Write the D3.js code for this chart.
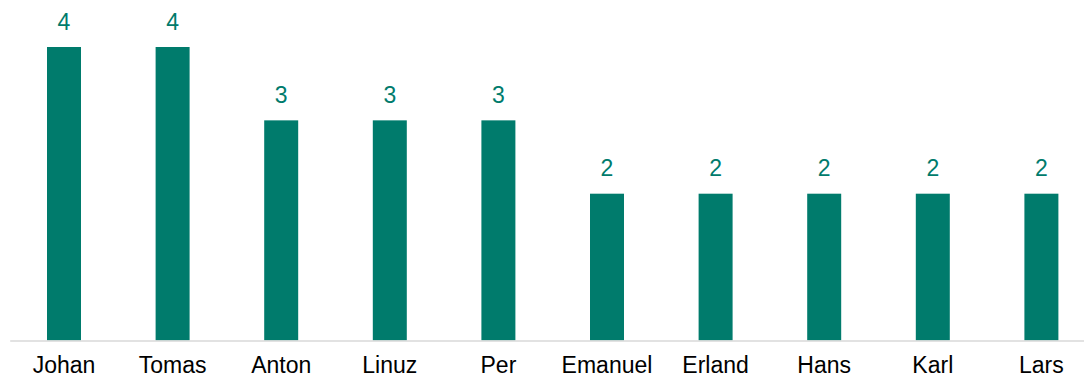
<!DOCTYPE html>
<html>
<head>
<meta charset="utf-8">
<script src="https://cdn.jsdelivr.net/npm/d3@7"></script>
<style>
  html, body { margin: 0; padding: 0; background: #fff; }
  svg { display: block; }
</style>
</head>
<body>
<svg id="chart" width="1084" height="378"></svg>
<script>
// Number of mentions per person
const names = ["Johan", "Tomas", "Anton", "Linuz", "Per", "Emanuel", "Erland", "Hans", "Karl", "Lars"];
const counts = [4, 4, 3, 3, 3, 2, 2, 2, 2, 2];

const barColor = "#007b6c";
const svg = d3.select("#chart");

const x = d3.scaleBand()
  .domain(names)
  .range([9.7, 1095.7])
  .padding(0);

const y = d3.scaleLinear()
  .domain([0, 4])
  .range([340.4, 47]);

const barWidth = x.bandwidth() * 0.313;

// Bars
svg.append("g")
  .selectAll("rect")
  .data(names)
  .join("rect")
  .attr("x", (d) => x(d) + (x.bandwidth() - barWidth) / 2)
  .attr("y", (d, i) => y(counts[i]))
  .attr("width", barWidth)
  .attr("height", (d, i) => y(0) - y(counts[i]))
  .attr("fill", barColor);

// Value labels above each bar
svg.append("g")
  .selectAll("text")
  .data(names)
  .join("text")
  .attr("x", (d) => x(d) + x.bandwidth() / 2)
  .attr("y", (d, i) => y(counts[i]) - 17.3)
  .attr("text-anchor", "middle")
  .attr("font-family", "Liberation Sans, Arial, sans-serif")
  .attr("font-size", 23)
  .attr("fill", barColor)
  .text((d, i) => counts[i]);

// Category axis
const xAxis = svg.append("g")
  .attr("transform", `translate(0,${y(0)})`)
  .call(d3.axisBottom(x).tickSize(0).tickPadding(16.5));

xAxis.select(".domain")
  .attr("stroke", "#d9d9d9")
  .attr("stroke-width", 1.5);

xAxis.selectAll("text")
  .attr("font-family", "Liberation Sans, Arial, sans-serif")
  .attr("font-size", 23)
  .attr("fill", "#000");
</script>
</body>
</html>
